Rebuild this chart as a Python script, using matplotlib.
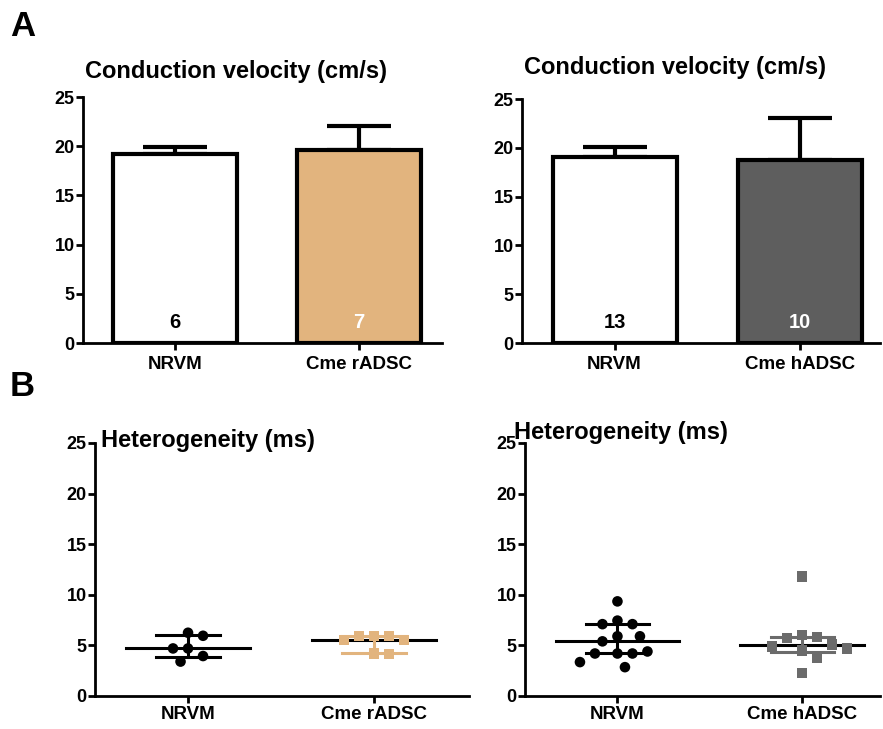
import numpy as np
import matplotlib
matplotlib.use("Agg")
import matplotlib.pyplot as plt

plt.rcParams['font.family'] = ['Liberation Sans', 'DejaVu Sans']
plt.rcParams['font.weight'] = 'bold'

# --- data -------------------------------------------------------------
cv_left_groups = ["NRVM", "Cme rADSC"]
cv_left_mean = [19.2, 19.6]
cv_left_sd = [0.7, 2.5]
cv_left_n = [6, 7]

cv_right_groups = ["NRVM", "Cme hADSC"]
cv_right_mean = [19.1, 18.7]
cv_right_sd = [1.0, 4.35]
cv_right_n = [13, 10]

het_left_nrvm = [6.25, 5.95, 4.7, 4.7, 3.95, 3.4]
het_left_radsc = [5.95, 5.9, 5.9, 5.55, 5.5, 4.2, 4.15]
het_right_nrvm = [9.35, 7.45, 7.1, 7.1, 5.9, 5.9, 5.4, 4.2, 4.2, 4.2, 4.4, 3.35, 2.85]
het_right_hadsc = [11.8, 6.0, 5.8, 5.75, 5.1, 4.9, 4.7, 4.5, 3.8, 2.3]

TAN = '#E2B47E'
DARK = '#5E5E5E'
GREY = '#6B6B6B'
LW = 2.0


def style_axis(ax, xlim, xpad=4):
    for s in ['top', 'right']:
        ax.spines[s].set_visible(False)
    for s in ['left', 'bottom']:
        ax.spines[s].set_linewidth(LW)
    ax.set_ylim(0, 25)
    ax.set_xlim(*xlim)
    ax.set_yticks([0, 5, 10, 15, 20, 25])
    ax.tick_params(axis='both', width=LW, length=5, direction='out')
    ax.tick_params(axis='y', labelsize=13, pad=1)
    ax.tick_params(axis='x', labelsize=13.5, pad=xpad)


def bar_panel(ax, groups, means, sds, ns, color, ncolor, xlim, title, ty):
    x = np.arange(len(groups))
    ax.errorbar(x, means, yerr=[np.zeros(len(sds)), sds], fmt='none',
                ecolor='black', elinewidth=3, capsize=23, capthick=3, zorder=1)
    ax.bar(x, means, width=0.67, color=['white', color], edgecolor='black',
           linewidth=3, zorder=2)
    for xi, n, c in zip(x, ns, ['black', ncolor]):
        ax.text(xi, 2.1, str(n), ha='center', va='center', fontsize=14.5,
                fontweight='bold', color=c, zorder=3)
    ax.set_xticks(x)
    ax.set_xticklabels(groups)
    style_axis(ax, xlim)
    ax.text(0.005, ty, title, transform=ax.transAxes, fontsize=17,
            fontweight='bold', ha='left', va='center')


def swarm_offsets(ax, xc, vals, diam_px):
    # simple beeswarm: nudge points sideways until they do not overlap
    placed = []
    offs = []
    x0 = ax.transData.transform((xc, 0))[0]
    for v in vals:
        yp = ax.transData.transform((xc, v))[1]
        k = 0
        while True:
            cands = [0] if k == 0 else [k * diam_px * 0.5, -k * diam_px * 0.5]
            ok = None
            for c in cands:
                if all((c - px) ** 2 + (yp - py) ** 2 >= (diam_px * 0.95) ** 2
                       for px, py in placed):
                    ok = c
                    break
            if ok is not None:
                placed.append((ok, yp))
                offs.append(ok)
                break
            k += 1
    xs = [ax.transData.inverted().transform((x0 + o, 0))[0] for o in offs]
    return xs


def scatter_panel(ax, groups, data, colors, markers, xlim, title, tx, ty):
    style_axis(ax, xlim, xpad=2)
    ax.set_xticks(range(len(groups)))
    ax.set_xticklabels(groups)
    for i, (vals, col, mk) in enumerate(zip(data, colors, markers)):
        med = np.median(vals)
        q1, q3 = np.percentile(vals, [25, 75], method='weibull')
        ax.plot([i - 0.335, i + 0.335], [med, med], color='black', lw=2.2, zorder=2)
        ax.plot([i - 0.17, i + 0.17], [q1, q1], color=col, lw=2.2, zorder=2)
        ax.plot([i - 0.17, i + 0.17], [q3, q3], color=col, lw=2.2, zorder=2)
        ax.plot([i, i], [q1, q3], color=col, lw=2.2, zorder=2)
        xs = swarm_offsets(ax, i, vals, 15)
        ax.scatter(xs, vals, s=58 if mk == 'o' else 55, marker=mk, color=col,
                   edgecolor='none', zorder=3)
    ax.text(tx, ty, title, transform=ax.transAxes, fontsize=17,
            fontweight='bold', ha='left', va='center')


fig = plt.figure(figsize=(8.83, 7.29), dpi=100)
W, H = 883.0, 729.0


def add_ax(x0, x1, ytop, ybot):
    return fig.add_axes([x0 / W, 1 - ybot / H, (x1 - x0) / W, (ybot - ytop) / H])


ax1 = add_ax(83, 442, 97, 343)
ax2 = add_ax(522, 880, 99, 343)
ax3 = add_ax(95, 469, 443, 696)
ax4 = add_ax(525, 880, 443, 696)

bar_panel(ax1, cv_left_groups, cv_left_mean, cv_left_sd, cv_left_n, TAN, 'white',
          (-0.5, 1.45), "Conduction velocity (cm/s)", 1.105)
bar_panel(ax2, cv_right_groups, cv_right_mean, cv_right_sd, cv_right_n, DARK, 'white',
          (-0.5, 1.434), "Conduction velocity (cm/s)", 1.13)

scatter_panel(ax3, cv_left_groups, [het_left_nrvm, het_left_radsc],
              ['black', TAN], ['o', 's'], (-0.5, 1.51),
              "Heterogeneity (ms)", 0.015, 1.01)
scatter_panel(ax4, cv_right_groups, [het_right_nrvm, het_right_hadsc],
              ['black', GREY], ['o', 's'], (-0.5, 1.42),
              "Heterogeneity (ms)", -0.03, 1.04)

fig.text(10 / W, 1 - 27 / H, "A", fontsize=25, fontweight='bold', va='center', ha='left')
fig.text(10 / W, 1 - 387 / H, "B", fontsize=25, fontweight='bold', va='center', ha='left')

fig.savefig("out.png", dpi=100, facecolor='white')
